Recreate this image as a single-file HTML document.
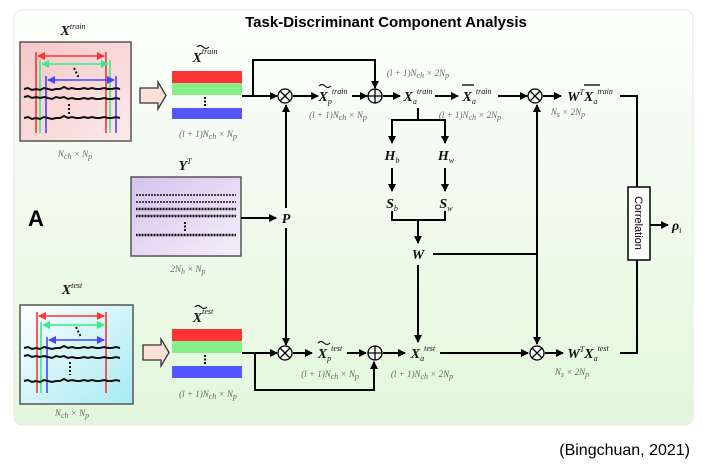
<!DOCTYPE html>
<html><head><meta charset="utf-8"><style>
body{margin:0;background:#fff;width:703px;height:470px;overflow:hidden}
svg{display:block}
.m{font-family:"Liberation Serif",serif;font-style:italic;font-weight:bold;font-size:14px;fill:#111}
.d{font-family:"Liberation Serif",serif;font-style:italic;font-size:9px;fill:#666}
.s{font-size:8px;font-weight:normal}
</style></head><body>
<svg width="703" height="470" viewBox="0 0 703 470" xmlns="http://www.w3.org/2000/svg">
<defs>
<linearGradient id="bg" x1="0" y1="0" x2="0" y2="1"><stop offset="0" stop-color="#fdfefd"/><stop offset="1" stop-color="#e3f7dc"/></linearGradient>
<linearGradient id="pk" x1="0" y1="0" x2="1" y2="1"><stop offset="0" stop-color="#f7c6c6"/><stop offset="1" stop-color="#fdeaea"/></linearGradient>
<linearGradient id="cy" x1="0" y1="0" x2="1" y2="1"><stop offset="0" stop-color="#ffffff"/><stop offset="1" stop-color="#a6eaf2"/></linearGradient>
<linearGradient id="lv" x1="0" y1="0" x2="1" y2="1"><stop offset="0" stop-color="#d5c2ee"/><stop offset="1" stop-color="#f4effa"/></linearGradient>
<marker id="a" markerWidth="8" markerHeight="8" refX="7" refY="4" orient="auto-start-reverse" markerUnits="userSpaceOnUse"><path d="M0,0 L8,4 L0,8 Z" fill="#000"/></marker>
<marker id="r" markerWidth="8" markerHeight="8" refX="7" refY="4" orient="auto-start-reverse" markerUnits="userSpaceOnUse"><path d="M0,0 L8,4 L0,8 Z" fill="#f33"/></marker>
<marker id="g" markerWidth="8" markerHeight="8" refX="7" refY="4" orient="auto-start-reverse" markerUnits="userSpaceOnUse"><path d="M0,0 L8,4 L0,8 Z" fill="#3e8"/></marker>
<marker id="b" markerWidth="8" markerHeight="8" refX="7" refY="4" orient="auto-start-reverse" markerUnits="userSpaceOnUse"><path d="M0,0 L8,4 L0,8 Z" fill="#44f"/></marker>
</defs>
<rect x="14" y="10" width="679" height="415" rx="8" fill="url(#bg)" stroke="#e6e6e6"/>
<text x="386" y="27" text-anchor="middle" font-family="Liberation Sans,sans-serif" font-weight="bold" font-size="15">Task-Discriminant Component Analysis</text>
<text x="28" y="226" font-family="Liberation Sans,sans-serif" font-weight="bold" font-size="22">A</text>

<!-- train box -->
<rect x="20" y="42" width="111" height="99" fill="url(#pk)" stroke="#555" stroke-width="1.5"/>
<g stroke-width="1.6" fill="none">
<path d="M36,52V133M106,52V133" stroke="#f33"/><path d="M40,60V133M110,60V133" stroke="#3e8"/><path d="M46,76V133M116,76V133" stroke="#44f"/>
<path d="M38,56H104" stroke="#f33" marker-start="url(#r)" marker-end="url(#r)"/><path d="M42,64H108" stroke="#3e8" marker-start="url(#g)" marker-end="url(#g)"/><path d="M48,80H114" stroke="#44f" marker-start="url(#b)" marker-end="url(#b)"/>
<path d="M24,89 l4,-1 4,2 4,-1 4,1 4,-2 4,1 4,1 4,-1 4,0 4,-2 4,2 4,-1 4,1 4,0 4,-1 4,1 4,-1 4,1 4,0 4,-1 4,1 4,0 4,-1 4,1" stroke="#111" stroke-width="2"/>
<path d="M24,97 l4,-1 4,2 4,-1 4,1 4,-1 4,1 4,1 4,-2 4,1 4,-1 4,2 4,-1 4,1 4,0 4,-1 4,1 4,-1 4,1 4,0 4,-1 4,1 4,0 4,-1 4,1" stroke="#111" stroke-width="2"/>
<path d="M24,118 l4,-1 4,2 4,-1 4,1 4,-2 4,1 4,1 4,-1 4,0 4,-2 4,2 4,-1 4,1 4,0 4,-1 4,1 4,-1 4,1 4,0 4,-1 4,1 4,0 4,-1 4,1" stroke="#111" stroke-width="2"/>
<path d="M74,68 l5,10 M69,104 V116" stroke="#111" stroke-width="2" stroke-dasharray="2,2"/>
</g>
<text x="73" y="35" text-anchor="middle" class="m">X<tspan dy="-6" class="s">train</tspan></text>
<text x="75" y="157" text-anchor="middle" class="d">N<tspan class="s" dy="2">ch</tspan><tspan dy="-2"> × N</tspan><tspan class="s" dy="2">p</tspan></text>
<path d="M140,88 H158 V82 L166,95.5 L158,109 V103 H140 Z" fill="#fde0d6" stroke="#333" stroke-width="1.3"/>
<rect x="172" y="71" width="70" height="12" fill="#f33"/><rect x="172" y="83" width="70" height="12" fill="#8e8"/><rect x="172" y="108" width="70" height="11" fill="#55f"/>
<path d="M205,97V106" stroke="#111" stroke-width="2" stroke-dasharray="2,1.5"/>
<text x="205" y="62" text-anchor="middle" class="m">X<tspan dy="-8" class="s">train</tspan></text><path d="M197,47 q3,-3 6,0 t6,0" stroke="#111" fill="none" stroke-width="1.2"/>
<text x="208" y="137" text-anchor="middle" class="d">(l + 1)N<tspan class="s" dy="2">ch</tspan><tspan dy="-2"> × N</tspan><tspan class="s" dy="2">p</tspan></text>

<!-- Y box -->
<rect x="131" y="177" width="110" height="79" fill="url(#lv)" stroke="#555" stroke-width="1.5"/>
<g stroke="#111" fill="none"><path d="M136,195 H236 M136,202 H236" stroke-width="1.5" stroke-dasharray="2,1"/><path d="M136,209 H236 M136,216 H236 M136,235 H236" stroke-width="2.5" stroke-dasharray="1,0.5"/><path d="M185,222V231" stroke-width="2" stroke-dasharray="2,1.5"/></g>
<text x="185" y="170" text-anchor="middle" class="m">Y<tspan dy="-6" class="s">T</tspan></text>
<text x="188" y="272" text-anchor="middle" class="d">2N<tspan class="s" dy="2">h</tspan><tspan dy="-2"> × N</tspan><tspan class="s" dy="2">p</tspan></text>

<!-- test box -->
<rect x="20" y="305" width="113" height="99" fill="url(#cy)" stroke="#555" stroke-width="1.5"/>
<g stroke-width="1.6" fill="none">
<path d="M37,312V393M106,312V393" stroke="#f33"/><path d="M41,322V393" stroke="#3e8"/><path d="M47,337V393" stroke="#44f"/>
<path d="M39,316H104" stroke="#f33" marker-start="url(#r)" marker-end="url(#r)"/><path d="M43,325H104" stroke="#3e8" marker-start="url(#g)" marker-end="url(#g)"/><path d="M49,340H104" stroke="#44f" marker-start="url(#b)" marker-end="url(#b)"/>
<path d="M24,348 l4,-1 4,2 4,-1 4,1 4,-2 4,1 4,1 4,-1 4,0 4,-2 4,2 4,-1 4,1 4,0 4,-1 4,1 4,-1 4,1 4,0 4,-1 4,1 4,0 4,-1 4,1" stroke="#111" stroke-width="2"/>
<path d="M24,356 l4,-1 4,2 4,-1 4,1 4,-1 4,1 4,1 4,-2 4,1 4,-1 4,2 4,-1 4,1 4,0 4,-1 4,1 4,-1 4,1 4,0 4,-1 4,1 4,0 4,-1 4,1" stroke="#111" stroke-width="2"/>
<path d="M24,381 l4,-1 4,2 4,-1 4,1 4,-2 4,1 4,1 4,-1 4,0 4,-2 4,2 4,-1 4,1 4,0 4,-1 4,1 4,-1 4,1 4,0 4,-1 4,1 4,0 4,-1 4,1" stroke="#111" stroke-width="2"/>
<path d="M76,327 l5,10 M70,362 V375" stroke="#111" stroke-width="2" stroke-dasharray="2,2"/>
</g>
<text x="72" y="294" text-anchor="middle" class="m">X<tspan dy="-6" class="s">test</tspan></text>
<text x="72" y="416" text-anchor="middle" class="d">N<tspan class="s" dy="2">ch</tspan><tspan dy="-2"> × N</tspan><tspan class="s" dy="2">p</tspan></text>
<path d="M143,345 H161 V339 L169,352.5 L161,366 V360 H143 Z" fill="#fde0d6" stroke="#333" stroke-width="1.3"/>
<rect x="172" y="329" width="70" height="12" fill="#f33"/><rect x="172" y="341" width="70" height="12" fill="#8e8"/><rect x="172" y="366" width="70" height="12" fill="#55f"/>
<path d="M205,355V364" stroke="#111" stroke-width="2" stroke-dasharray="2,1.5"/>
<text x="203" y="322" text-anchor="middle" class="m">X<tspan dy="-8" class="s">test</tspan></text><path d="M195,307 q3,-3 6,0 t6,0" stroke="#111" fill="none" stroke-width="1.2"/>
<text x="208" y="397" text-anchor="middle" class="d">(l + 1)N<tspan class="s" dy="2">ch</tspan><tspan dy="-2"> × N</tspan><tspan class="s" dy="2">p</tspan></text>

<!-- connectors -->
<g stroke="#000" stroke-width="2" fill="none">
<path d="M242,96H277" marker-end="url(#a)"/>
<path d="M253,96V60H375V88" marker-end="url(#a)"/>
<path d="M293,96H318" marker-end="url(#a)"/>
<path d="M352,96H367" marker-end="url(#a)"/>
<path d="M383,96H400" marker-end="url(#a)"/>
<path d="M435,96H458" marker-end="url(#a)"/>
<path d="M498,96H527" marker-end="url(#a)"/>
<path d="M543,96H561" marker-end="url(#a)"/>
<path d="M620,96H637V187"/>
<path d="M637,260V353H620"/>
<path d="M650,225H668" marker-end="url(#a)"/>
<path d="M418,108V120H392V143 M418,120H445V143" />
<path d="M392,126V143" marker-end="url(#a)"/><path d="M445,126V143" marker-end="url(#a)"/>
<path d="M392,168V191" marker-end="url(#a)"/><path d="M445,168V191" marker-end="url(#a)"/>
<path d="M392,211V220H445V211 M418,220V243" /><path d="M418,225V243" marker-end="url(#a)"/>
<path d="M433,254H537"/>
<path d="M537,254V105" marker-end="url(#a)"/>
<path d="M537,254V344" marker-end="url(#a)"/>
<path d="M241,218H276" marker-end="url(#a)"/>
<path d="M286,208V105" marker-end="url(#a)"/>
<path d="M286,228V345" marker-end="url(#a)"/>
<path d="M418,265V342" marker-end="url(#a)"/>
<path d="M242,353H277" marker-end="url(#a)"/>
<path d="M255,353V390H374V362" marker-end="url(#a)"/>
<path d="M293,353H312" marker-end="url(#a)"/>
<path d="M347,353H366" marker-end="url(#a)"/>
<path d="M383,353H405" marker-end="url(#a)"/>
<path d="M440,353H528" marker-end="url(#a)"/>
<path d="M545,353H563" marker-end="url(#a)"/>
</g>
<g fill="#fff" stroke="#000" stroke-width="1.3">
<circle cx="285" cy="96" r="7"/><path d="M280,91L290,101M290,91L280,101"/>
<circle cx="375" cy="96" r="7"/><path d="M368,96H382M375,89V103"/>
<circle cx="535" cy="96" r="7"/><path d="M530,91L540,101M540,91L530,101"/>
<circle cx="285" cy="353" r="7"/><path d="M280,348L290,358M290,348L280,358"/>
<circle cx="375" cy="353" r="7"/><path d="M368,353H382M375,346V360"/>
<circle cx="537" cy="353" r="7"/><path d="M532,348L542,358M542,348L532,358"/>
</g>
<rect x="628" y="187" width="22" height="73" fill="#fff" stroke="#000" stroke-width="1.5"/>
<text transform="translate(635,223) rotate(90)" text-anchor="middle" font-family="Liberation Sans,sans-serif" font-size="11">Correlation</text>
<text x="672" y="230" class="m" font-weight="normal">ρ<tspan class="s" dy="3">i</tspan></text>

<text x="333" y="101" text-anchor="middle" class="m">X<tspan class="s" dy="3">p</tspan><tspan class="s" dy="-10">train</tspan></text><path d="M319,86 q3,-3 6,0 t6,0" stroke="#111" fill="none" stroke-width="1.2"/>
<text x="338" y="118" text-anchor="middle" class="d">(l + 1)N<tspan class="s" dy="2">ch</tspan><tspan dy="-2"> × N</tspan><tspan class="s" dy="2">p</tspan></text>
<text x="418" y="76" text-anchor="middle" class="d">(l + 1)N<tspan class="s" dy="2">ch</tspan><tspan dy="-2"> × 2N</tspan><tspan class="s" dy="2">p</tspan></text>
<text x="418" y="101" text-anchor="middle" class="m">X<tspan class="s" dy="3">a</tspan><tspan class="s" dy="-10">train</tspan></text>
<text x="477" y="101" text-anchor="middle" class="m">X<tspan class="s" dy="3">a</tspan><tspan class="s" dy="-10">train</tspan></text><path d="M462,85H474" stroke="#000" stroke-width="1.3"/>
<text x="470" y="118" text-anchor="middle" class="d">(l + 1)N<tspan class="s" dy="2">ch</tspan><tspan dy="-2"> × 2N</tspan><tspan class="s" dy="2">p</tspan></text>
<text x="590" y="101" text-anchor="middle" class="m">W<tspan class="s" dy="-6">T</tspan><tspan dy="6">X</tspan><tspan class="s" dy="3">a</tspan><tspan class="s" dy="-10">train</tspan></text><path d="M584,85H600" stroke="#000" stroke-width="1.3"/>
<text x="568" y="115" text-anchor="middle" class="d">N<tspan class="s" dy="2">s</tspan><tspan dy="-2"> × 2N</tspan><tspan class="s" dy="2">p</tspan></text>
<text x="392" y="160" text-anchor="middle" class="m">H<tspan class="s" dy="3">b</tspan></text>
<text x="446" y="160" text-anchor="middle" class="m">H<tspan class="s" dy="3">w</tspan></text>
<text x="392" y="208" text-anchor="middle" class="m">S<tspan class="s" dy="3">b</tspan></text>
<text x="446" y="208" text-anchor="middle" class="m">S<tspan class="s" dy="3">w</tspan></text>
<text x="418" y="259" text-anchor="middle" class="m">W</text>
<text x="286" y="223" text-anchor="middle" class="m">P</text>
<text x="330" y="358" text-anchor="middle" class="m">X<tspan class="s" dy="3">p</tspan><tspan class="s" dy="-10">test</tspan></text><path d="M318,343 q3,-3 6,0 t6,0" stroke="#111" fill="none" stroke-width="1.2"/>
<text x="330" y="377" text-anchor="middle" class="d">(l + 1)N<tspan class="s" dy="2">ch</tspan><tspan dy="-2"> × N</tspan><tspan class="s" dy="2">p</tspan></text>
<text x="423" y="358" text-anchor="middle" class="m">X<tspan class="s" dy="3">a</tspan><tspan class="s" dy="-10">test</tspan></text>
<text x="422" y="377" text-anchor="middle" class="d">(l + 1)N<tspan class="s" dy="2">ch</tspan><tspan dy="-2"> × 2N</tspan><tspan class="s" dy="2">p</tspan></text>
<text x="588" y="358" text-anchor="middle" class="m">W<tspan class="s" dy="-6">T</tspan><tspan dy="6">X</tspan><tspan class="s" dy="3">a</tspan><tspan class="s" dy="-10">test</tspan></text>
<text x="572" y="375" text-anchor="middle" class="d">N<tspan class="s" dy="2">s</tspan><tspan dy="-2"> × 2N</tspan><tspan class="s" dy="2">p</tspan></text>

<text x="690" y="455" text-anchor="end" font-family="Liberation Sans,sans-serif" font-size="16">(Bingchuan, 2021)</text>
</svg>
</body></html>
